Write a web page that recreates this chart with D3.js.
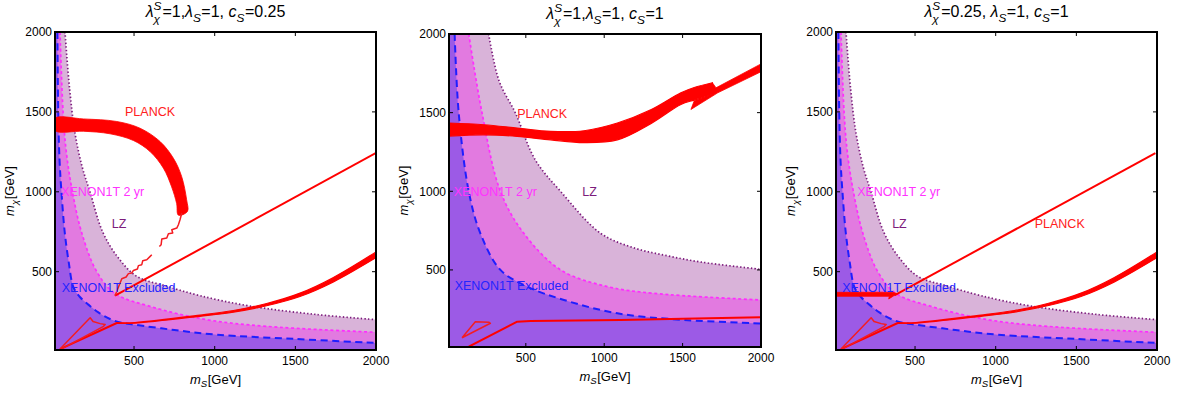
<!DOCTYPE html>
<html>
<head>
<meta charset="utf-8">
<script src="https://cdn.jsdelivr.net/npm/d3@7"></script>
<style>
  body { margin: 0; background: #fff; }
  svg { font-family: "Liberation Sans", Arial, sans-serif; }
</style>
</head>
<body>
<svg id="chart" width="1180" height="396"></svg>
<script>
// ---- values, all in GeV ([m_S, m_chi]) ----
const xTicks = [500, 1000, 1500, 2000];
const yTicks = [500, 1000, 1500, 2000];
const axisDomain = [10, 2000];

// title tokens: [text, kind]  kind: n = normal, i = italic, sup / sub / stack (sub under the sup)
const title1 = [["λ","i"],["S","sup"],["χ","stack"],["=1,","n"],["λ","i"],["S","sub"],["=1, ","n"],["c","i"],["S","sub"],["=0.25","n"]];
const title2 = [["λ","i"],["S","sup"],["χ","stack"],["=1,","n"],["λ","i"],["S","sub"],["=1, ","n"],["c","i"],["S","sub"],["=1","n"]];
const title3 = [["λ","i"],["S","sup"],["χ","stack"],["=0.25, ","n"],["λ","i"],["S","sub"],["=1, ","n"],["c","i"],["S","sub"],["=1","n"]];

// direct detection boundaries, panels 1 and 3 (they look the same)
const xenonExcl13 = [[25,2000],[30,1500],[38,1200],[50,1000],[70,750],[95,560],[124,404],[166,340],[217,294],[279,245],[351,204],[424,180],[506,168],[750,135],[1012,106],[1504,79],[2000,54]];
const xenon2yr13  = [[41,2000],[60,1500],[80,1250],[118,1000],[176,742],[269,500],[380,365],[599,283],[950,200],[1322,158],[2000,121]];
const lz13        = [[72,2000],[100,1650],[134,1367],[180,1150],[227,1000],[305,750],[400,590],[517,471],[700,410],[909,350],[1219,285],[1632,232],[2000,200]];

// direct detection boundaries, panel 2
const xenonExcl2 = [[46,2000],[72,1497],[136,999],[210,733],[338,500],[509,394],[743,309],[1084,224],[1510,182],[2000,160]];
const xenon2yr2  = [[136,2000],[221,1497],[338,999],[487,733],[722,500],[1020,394],[1318,351],[2000,309]];
const lz2        = [[263,2000],[330,1700],[434,1497],[560,1200],[722,999],[977,733],[1190,640],[1403,590],[1617,550],[2000,504]];

// PLANCK relic density, panel 1
const planckArc1 = [[10,1460],[186,1456],[393,1440],[537,1398],[661,1315],[744,1210],[795,1096],[826,950],[831,877],
                    [775,854],[764,927],[733,1031],[682,1148],[599,1252],[496,1321],[351,1363],[186,1379],[10,1383]];
const planckZig1a = [[796,867],[785,825],[775,794],[765,773],[734,763],[740,742],[713,738],[703,711],[672,704],[668,669],[657,658]];
const planckZig1b = [[610,606],[600,596],[579,575],[554,569],[548,544],[527,538],[521,517],[496,508],[486,492],[465,488],[451,467],[424,456],[382,350]];
const planckLine1 = [[382,350],[1998,1242]];

// PLANCK, lower branch shared by panels 1 and 3: [m_S, low, high]
const planckLow13 = [[393,177,181],[506,178,182],[909,221,228],[1116,247,257],[1322,287,301],[1529,345,366],[1736,436,464],[2000,588,624]];
const planckWedge13 = [[41,16],[228,212],[246,188],[290,175],[321,169],[308,156],[54,19],[41,16]];
const planckWedgeLine13 = [[41,16],[393,179]];

// PLANCK, panel 2: smooth band [m_S, low, high] and the kinked tail outline
const planckBand2 = [[10,1351,1434],[232,1359,1423],[445,1349,1402],[658,1327,1381],[871,1310,1385],[1084,1327,1434],
                     [1297,1430,1518],[1489,1552,1626],[1574,1580,1660],[1690,1615,1690]];
const planckTail2 = [[1690,1690],[1713,1658],[2000,1810],[2000,1760],[1724,1626],[1553,1520],[1574,1575],[1690,1615]];
const planckLine2 = [[136,12],[445,171],[530,176],[1104,182],[1500,190],[2000,199]];
const planckTri2  = [[93,69],[178,171],[264,168],[274,161],[93,69]];

// PLANCK, panel 3
const planckStub3 = [[10,371],[360,372],[389,363],[337,329],[340,346],[10,346]];
const planckLine3 = [[372,352],[1990,1242]];

// region labels: [text, class, m_S (left edge), m_chi (middle)]
const labels1 = [["PLANCK","planck",444,1502],["XENON1T 2 yr","x2yr",48,1002],["LZ","lz",362,804],["XENON1T Excluded","xexc",52,404]];
const labels2 = [["PLANCK","planck",445,1497],["XENON1T 2 yr","x2yr",40,999],["LZ","lz",860,999],["XENON1T Excluded","xexc",46,398]];
const labels3 = [["PLANCK","planck",1242,804],["XENON1T 2 yr","x2yr",141,1002],["LZ","lz",358,804],["XENON1T Excluded","xexc",48,404]];

// ---- layout ----
const svg = d3.select("#chart");
const frames = [
  {x0: 55,  x1: 376,  y0: 32, y1: 350},
  {x0: 449, x1: 761,  y0: 34, y1: 347},
  {x0: 836, x1: 1157, y0: 32, y1: 350}
];
const colors = {
  xexcFill: "#9c5ae6", x2yrFill: "#e27ae0", lzFill: "#d9b3d9",
  xexc: "#1e1eff", x2yr: "#ff2cff", lz: "#7c1c7c", planck: "#ff0000"
};
const labelColor = {planck: "#ff2020", x2yr: "#ff33ff", lz: "#7c1c7c", xexc: "#2424ff"};

function richText(g, tokens, size) { // lays out tokens left to right, returns the total width
  let x = 0, lastX = 0;
  tokens.forEach(([s, k]) => {
    const small = k === "sup" || k === "sub" || k === "stack";
    const t = g.append("text")
      .attr("x", k === "stack" ? lastX : x)
      .attr("y", k === "sup" ? -size * 0.42 : k === "sub" ? size * 0.3 : k === "stack" ? size * 0.36 : 0)
      .attr("font-size", small ? size * 0.74 : size)
      .attr("font-style", k === "n" ? "normal" : "italic")
      .style("white-space", "pre")
      .text(s);
    const w = t.node().getComputedTextLength();
    if (k === "stack") x = Math.max(x, lastX + w) + 0.5;
    else { lastX = x; x += w + (small ? 0.5 : 0); }
  });
  return x;
}

function drawPanel(i, f, title, dd, planck, labels) {
  const x = d3.scaleLinear().domain(axisDomain).range([f.x0, f.x1]);
  const y = d3.scaleLinear().domain(axisDomain).range([f.y1, f.y0]);
  const g = svg.append("g");

  g.append("clipPath").attr("id", "clip" + i)
    .append("rect").attr("x", f.x0).attr("y", f.y0).attr("width", f.x1 - f.x0).attr("height", f.y1 - f.y0);
  const plot = g.append("g").attr("clip-path", `url(#clip${i})`);

  const curve = d3.line().x(d => x(d[0])).y(d => y(d[1])).curve(d3.curveCatmullRom.alpha(0.5));
  const poly = d3.line().x(d => x(d[0])).y(d => y(d[1]));
  const area = d3.area().x(d => x(d[0])).y0(d => y(d[1])).y1(d => y(d[2])).curve(d3.curveCatmullRom.alpha(0.5));

  // shaded exclusion regions: everything below each boundary, widest first
  const under = pts => curve(pts) + `L${x(2100)},${y(0)}L${x(0)},${y(0)}L${x(0)},${y(2100)}Z`;
  [[dd.lz, colors.lzFill], [dd.x2yr, colors.x2yrFill], [dd.xexc, colors.xexcFill]].forEach(([pts, c]) => {
    plot.append("path").attr("d", under(pts)).attr("fill", c);
  });

  plot.append("path").attr("d", curve(dd.lz)).attr("fill", "none")
    .attr("stroke", colors.lz).attr("stroke-width", 1.7).attr("stroke-dasharray", "1.4,2.2");
  plot.append("path").attr("d", curve(dd.x2yr)).attr("fill", "none")
    .attr("stroke", colors.x2yr).attr("stroke-width", 1.7).attr("stroke-dasharray", "3,2.6");
  plot.append("path").attr("d", curve(dd.xexc)).attr("fill", "none")
    .attr("stroke", colors.xexc).attr("stroke-width", 2).attr("stroke-dasharray", "7,4.5");

  // PLANCK curves
  (planck.bands || []).forEach(([pts, smooth]) => {
    const gen = d3.line().x(d => x(d[0])).y(d => y(d[1]))
      .curve(smooth ? d3.curveCatmullRomClosed.alpha(0.5) : d3.curveLinearClosed);
    plot.append("path").attr("d", gen(pts)).attr("fill", colors.planck)
      .attr("stroke", colors.planck).attr("stroke-width", 0.8).attr("stroke-linejoin", "round");
  });
  (planck.areas || []).forEach(pts => {
    plot.append("path").attr("d", area(pts)).attr("fill", colors.planck)
      .attr("stroke", colors.planck).attr("stroke-width", 1.2);
  });
  (planck.lines || []).forEach(pts => {
    plot.append("path").attr("d", poly(pts)).attr("fill", "none")
      .attr("stroke", colors.planck).attr("stroke-width", 2).attr("stroke-linejoin", "round");
  });
  (planck.thin || []).forEach(pts => {
    plot.append("path").attr("d", poly(pts)).attr("fill", "none")
      .attr("stroke", "#f41c22").attr("stroke-width", 1.5).attr("stroke-linejoin", "round");
  });

  // region labels
  plot.selectAll("text.lab").data(labels).enter().append("text")
    .attr("class", "lab")
    .attr("x", d => x(d[2])).attr("y", d => y(d[3])).attr("dy", "0.36em")
    .attr("font-size", 12.5)
    .attr("fill", d => labelColor[d[1]])
    .text(d => d[0]);

  // frame with inward ticks
  g.append("rect").attr("x", f.x0).attr("y", f.y0).attr("width", f.x1 - f.x0).attr("height", f.y1 - f.y0)
    .attr("fill", "none").attr("stroke", "#000").attr("stroke-width", 2);
  const ticks = g.append("g").attr("stroke", "#000").attr("stroke-width", 1);
  xTicks.forEach(v => {
    ticks.append("line").attr("x1", x(v)).attr("x2", x(v)).attr("y1", f.y1).attr("y2", f.y1 - 4);
    ticks.append("line").attr("x1", x(v)).attr("x2", x(v)).attr("y1", f.y0).attr("y2", f.y0 + 4);
  });
  yTicks.forEach(v => {
    ticks.append("line").attr("y1", y(v)).attr("y2", y(v)).attr("x1", f.x0).attr("x2", f.x0 + 4);
    ticks.append("line").attr("y1", y(v)).attr("y2", y(v)).attr("x1", f.x1).attr("x2", f.x1 - 4);
  });

  // tick labels
  g.selectAll("text.xt").data(xTicks).enter().append("text")
    .attr("x", d => x(d)).attr("y", f.y1 + 14.5).attr("text-anchor", "middle")
    .attr("font-size", 12).text(d => d);
  g.selectAll("text.yt").data(yTicks).enter().append("text")
    .attr("x", f.x0 - 3).attr("y", d => y(d)).attr("dy", "0.36em").attr("text-anchor", "end")
    .attr("font-size", 12).text(d => d);

  // axis titles
  const cx = (f.x0 + f.x1) / 2, cy = (f.y0 + f.y1) / 2;
  const xt = g.append("g");
  const wx = richText(xt, [["m","i"],["S","sub"],["[GeV]","n"]], 13);
  xt.attr("transform", `translate(${cx - wx / 2},${f.y1 + 33.5})`);
  const yt = g.append("g");
  const wy = richText(yt, [["m","i"],["χ","sub"],["[GeV]","n"]], 13);
  yt.attr("transform", `translate(${f.x0 - 41},${cy + wy / 2}) rotate(-90)`);

  // panel title
  const tt = g.append("g");
  const wt = richText(tt, title, 16);
  tt.attr("transform", `translate(${cx - wt / 2},${f.y0 - 15})`);
}

drawPanel(1, frames[0], title1,
  {xexc: xenonExcl13, x2yr: xenon2yr13, lz: lz13},
  {bands: [[planckArc1, true]], areas: [planckLow13],
   lines: [planckLine1, planckWedgeLine13], thin: [planckZig1a, planckZig1b, planckWedge13]},
  labels1);

drawPanel(2, frames[1], title2,
  {xexc: xenonExcl2, x2yr: xenon2yr2, lz: lz2},
  {bands: [[planckTail2, false]], areas: [planckBand2], lines: [planckLine2], thin: [planckTri2]},
  labels2);

drawPanel(3, frames[2], title3,
  {xexc: xenonExcl13, x2yr: xenon2yr13, lz: lz13},
  {bands: [[planckStub3, false]], areas: [planckLow13],
   lines: [planckLine3, planckWedgeLine13], thin: [planckWedge13]},
  labels3);
</script>
</body>
</html>
